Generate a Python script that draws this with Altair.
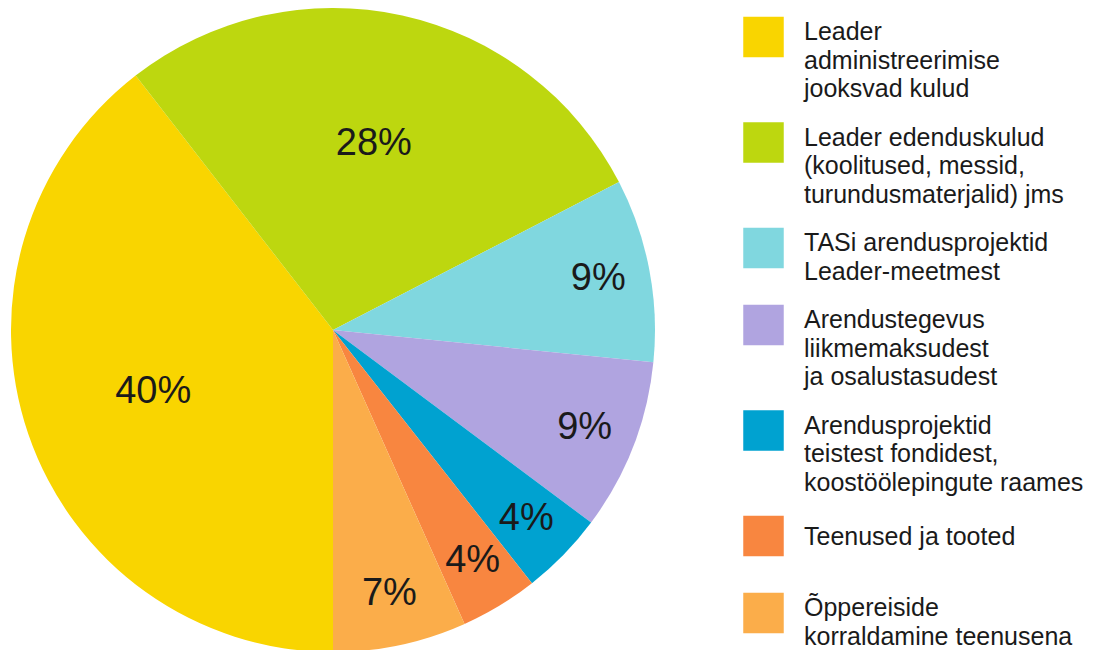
import math
import altair as alt
import pandas as pd

# ---- data ----
categories = [
    "Leader\nadministreerimise\njooksvad kulud",
    "Leader edenduskulud\n(koolitused, messid,\nturundusmaterjalid) jms",
    "TASi arendusprojektid\nLeader-meetmest",
    "Arendustegevus\nliikmemaksudest\nja osalustasudest",
    "Arendusprojektid\nteistest fondidest,\nkoostöölepingute raames",
    "Teenused ja tooted",
    "Õppereiside\nkorraldamine teenusena",
]
values = [39.5, 27.9, 9.2, 8.6, 4.2, 3.9, 6.7]
pct_labels = ["40%", "28%", "9%", "9%", "4%", "4%", "7%"]
colors = ["#F9D500", "#BDD70F", "#80D7DF", "#B0A4E0", "#00A2D0", "#F88640", "#FBAD4A"]

# ---- layout constants (style) ----
CX, CY, R = 333, 330, 322
LEG_TOP, LINE_H, SQ, GAP = 17, 28.5, 40, 20
FONT = "Liberation Sans"

pie_df = pd.DataFrame({
    "cat": categories,
    "value": values,
    "label": pct_labels,
    "idx": list(range(len(categories))),
})

# legend rows: positions derived from the number of text lines
tops, text_y = [], []
y = LEG_TOP
for c in categories:
    n = len(c.split("\n"))
    tops.append(y)
    text_y.append(y + SQ / 2 + 8.5 if n == 1 else y + 23)
    y += LINE_H * max(n, 2) + GAP
leg_df = pd.DataFrame({
    "cat": categories,
    "sq_y": [t + SQ / 2 for t in tops],
    "txt_y": text_y,
})

theta = alt.Theta("value:Q", stack=True, scale=alt.Scale(range=[math.pi, 3 * math.pi]))
color = alt.Color("cat:N", scale=alt.Scale(domain=categories, range=colors), legend=None)
order = alt.Order("idx:Q")

arcs = alt.Chart(pie_df).mark_arc(radius=R).encode(
    theta=theta, color=color, order=order,
    x=alt.value(CX), y=alt.value(CY),
)

labels = alt.Chart(pie_df).mark_text(
    font=FONT, fontSize=38, color="#1a1a1a",
    radius=alt.expr("datum.value > 20 ? 190 : 270"),
).encode(
    theta=theta, order=order,
    text="label:N",
    x=alt.value(CX), y=alt.value(CY),
)

squares = alt.Chart(leg_df).mark_square(size=SQ * 41, opacity=1).encode(
    x=alt.value(763.5),
    y=alt.Y("sq_y:Q", scale=None),
    color=color,
)

leg_text = alt.Chart(leg_df).mark_text(
    font=FONT, fontSize=25, color="#1a1a1a", align="left",
    baseline="alphabetic", lineBreak="\n", lineHeight=LINE_H,
).encode(
    x=alt.value(804),
    y=alt.Y("txt_y:Q", scale=None),
    text="cat:N",
)

chart = alt.layer(arcs, labels, squares, leg_text).properties(
    width=1095, height=650, padding=0,
    autosize=alt.AutoSizeParams(type="none"),
).configure_view(stroke=None)

chart.save("out.html", embed_options={"renderer": "svg", "actions": False})
